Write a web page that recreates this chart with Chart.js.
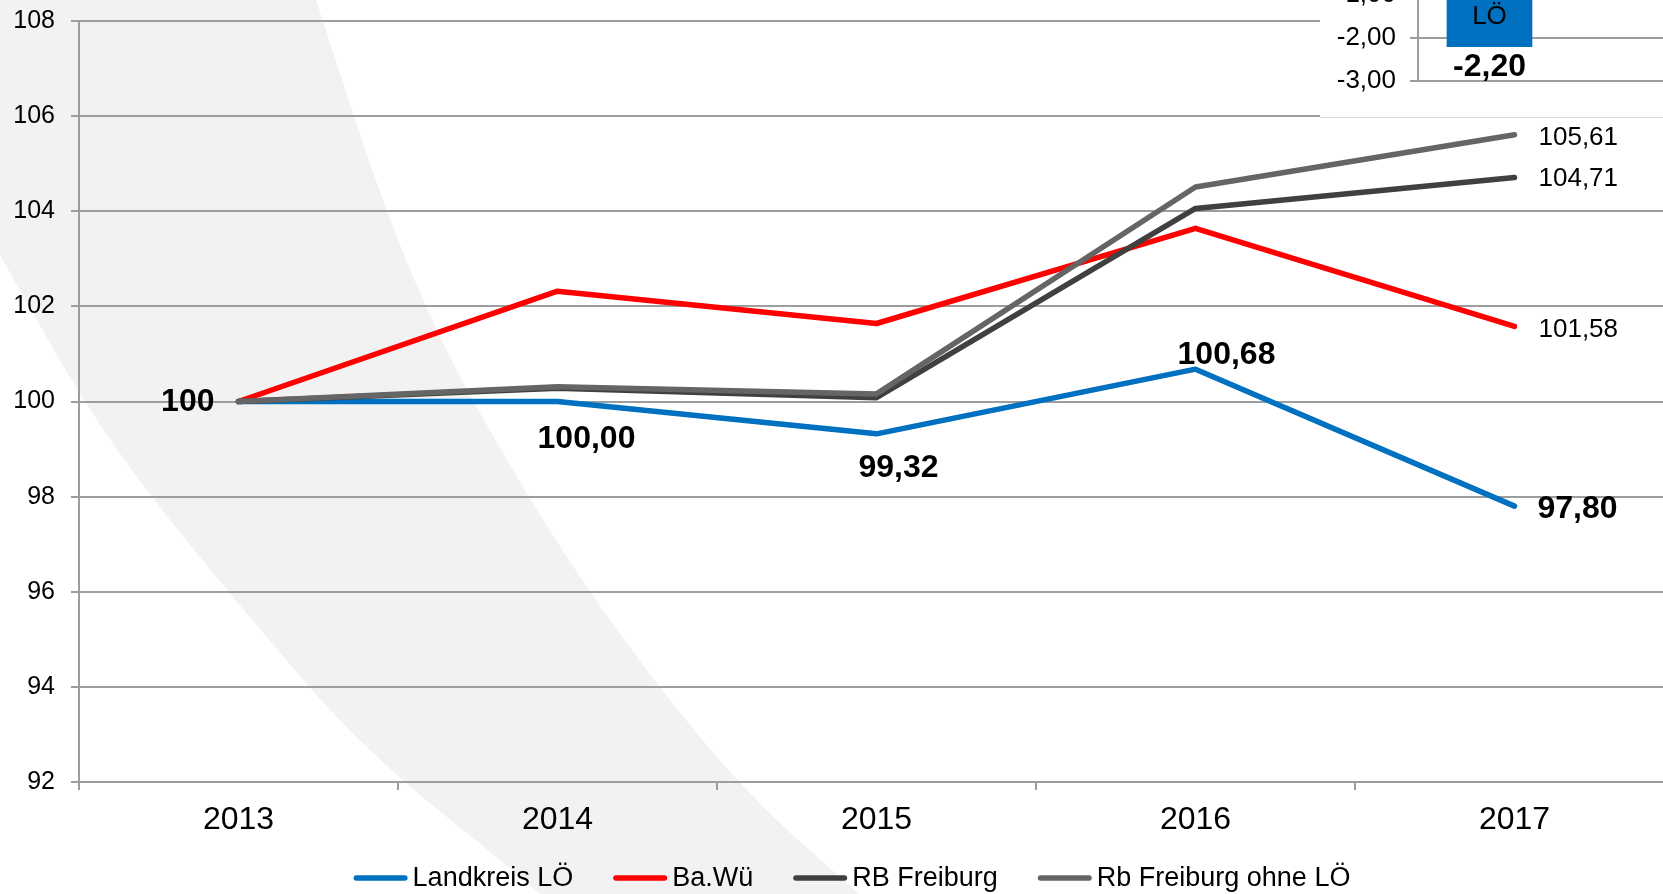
<!DOCTYPE html>
<html><head><meta charset="utf-8">
<script src="https://cdn.jsdelivr.net/npm/chart.js@4.4.0/dist/chart.umd.min.js"></script>
<style>
html,body{margin:0;padding:0;background:#fff;overflow:hidden;width:1663px;height:894px;}
#wrap{position:absolute;left:0;top:0;width:1674px;height:894px;}
#inset{position:absolute;left:1320px;top:0;width:343px;height:117px;background:#fff;border-bottom:1px solid #d9d9d9;overflow:hidden;}
#insetWrap{position:absolute;left:0;top:-80px;width:343px;height:197px;}
</style></head>
<body>
<div id="wrap"><canvas id="main"></canvas></div>
<div id="inset"><div id="insetWrap"><canvas id="ins"></canvas></div></div>
<script>
// ---------- data ----------
const years = ['2013', '2014', '2015', '2016', '2017'];
const seriesNames = ['Landkreis LÖ', 'Ba.Wü', 'RB Freiburg', 'Rb Freiburg ohne LÖ'];
const landkreisLO = [100, 100.00, 99.32, 100.68, 97.80];
const baWue = [100, 102.32, 101.64, 103.64, 101.58];
const rbFreiburg = [100, 100.28, 100.08, 104.06, 104.71];
const rbFreiburgOhneLO = [100, 100.31, 100.16, 104.51, 105.61];
const yMin = 92, yMax = 108, yStep = 2;
const insetCategories = ['LÖ'];
const insetValues = [-2.20];
const insetMin = -3, insetMax = 0, insetStep = 1;

// ---------- styles ----------
const FONT = '"Liberation Sans", Arial, Helvetica, sans-serif';
Chart.defaults.font.family = FONT;
const GRID = '#9d9d9d';
const colors = ['#0070C0', '#FF0000', '#404040', '#656565'];
const drawOrder = [4, 3, 2, 1];
const fmt = v => v.toFixed(2).replace('.', ',');

// label placement styles: [datasetIndex, pointIndex, align, dx, dy, bold, plain]
const labelStyles = [
  [0, 0, 'right', -24, 1, true, true],
  [0, 1, 'center', 29, 38, true, false],
  [0, 2, 'center', 22, 34, true, false],
  [0, 3, 'center', 31, -14, true, false],
  [0, 4, 'left', 23, 3, true, false],
  [1, 4, 'left', 24, 3, false, false],
  [2, 4, 'left', 24, 1.5, false, false],
  [3, 4, 'left', 24, 3, false, false]
];

const seriesValues = [landkreisLO, baWue, rbFreiburg, rbFreiburgOhneLO];

// background swoosh (decoration)
const bandRight = [[316,0],[354,116],[386,211],[425,306],[471,400],[583,587],[732,781],[859,894],[900,930]];
const bandLeft = [[580,930],[543,894],[365,752],[245,612],[150,496],[82,400],[0,255]];

function smooth(ctx, pts) {
  for (let i = 1; i < pts.length - 1; i++) {
    const mx = (pts[i][0] + pts[i+1][0]) / 2, my = (pts[i][1] + pts[i+1][1]) / 2;
    ctx.quadraticCurveTo(pts[i][0], pts[i][1], mx, my);
  }
  const l = pts[pts.length - 1];
  ctx.lineTo(l[0], l[1]);
}

const bandPlugin = {
  id: 'band',
  beforeDraw(chart) {
    const ctx = chart.ctx;
    ctx.save();
    ctx.fillStyle = '#f2f2f2';
    ctx.beginPath();
    ctx.moveTo(0, 0);
    ctx.lineTo(bandRight[0][0], bandRight[0][1]);
    smooth(ctx, bandRight);
    ctx.lineTo(bandLeft[0][0], bandLeft[0][1]);
    smooth(ctx, bandLeft);
    ctx.closePath();
    ctx.fill();
    ctx.restore();
  }
};

const labelPlugin = {
  id: 'valueLabels',
  afterDatasetsDraw(chart) {
    const ctx = chart.ctx;
    ctx.save();
    ctx.fillStyle = '#000';
    ctx.textBaseline = 'middle';
    labelStyles.forEach(([d, i, align, dx, dy, bold, plain]) => {
      const pt = chart.getDatasetMeta(d).data[i];
      const v = seriesValues[d][i];
      ctx.font = (bold ? 'bold 32px ' : '26px ') + FONT;
      ctx.textAlign = align;
      ctx.fillText(plain ? String(v) : fmt(v), pt.x + dx, pt.y + dy);
    });
    ctx.restore();
  }
};

const legendPlugin = {
  id: 'customLegend',
  afterDraw(chart) {
    const ctx = chart.ctx;
    ctx.save();
    ctx.font = '27px ' + FONT;
    const lineLen = 54, gap = 5, spacing = 40, y = 878, cx = 852;
    const items = chart.data.datasets.map(ds => ({ text: ds.label, color: ds.borderColor, w: ctx.measureText(ds.label).width }));
    const total = items.reduce((s, it) => s + lineLen + gap + it.w, 0) + spacing * (items.length - 1);
    let x = cx - total / 2;
    items.forEach(it => {
      ctx.strokeStyle = it.color;
      ctx.lineWidth = 5.5;
      ctx.lineCap = 'round';
      ctx.beginPath();
      ctx.moveTo(x + 2.75, y);
      ctx.lineTo(x + lineLen - 2.75, y);
      ctx.stroke();
      ctx.fillStyle = '#000';
      ctx.textAlign = 'left';
      ctx.textBaseline = 'middle';
      ctx.fillText(it.text, x + lineLen + gap, y + 1);
      x += lineLen + gap + it.w + spacing;
    });
    ctx.restore();
  }
};

new Chart(document.getElementById('main'), {
  type: 'line',
  data: {
    labels: years,
    datasets: seriesNames.map((name, k) => ({
      label: name,
      data: seriesValues[k],
      borderColor: colors[k],
      backgroundColor: colors[k],
      borderWidth: 5.5,
      borderCapStyle: 'round',
      borderJoinStyle: 'round',
      pointRadius: 0,
      tension: 0,
      fill: false,
      order: drawOrder[k]
    }))
  },
  options: {
    responsive: true,
    maintainAspectRatio: false,
    animation: false,
    events: [],
    layout: { padding: { left: 0, right: 0, top: 21, bottom: 43.6 } },
    plugins: { legend: { display: false }, tooltip: { enabled: false } },
    scales: {
      x: {
        offset: true,
        grid: { offset: true, drawOnChartArea: false, color: GRID, lineWidth: 2, tickLength: 8 },
        border: { display: true, color: GRID, width: 2 },
        ticks: { font: { size: 32 }, color: '#000', padding: 11, maxRotation: 0, autoSkip: false }
      },
      y: {
        min: yMin, max: yMax,
        ticks: { stepSize: yStep, font: { size: 25 }, color: '#000', padding: 16 },
        grid: { color: GRID, lineWidth: 2, tickLength: 8 },
        border: { display: true, color: GRID, width: 2 },
        afterFit(s) { s.width = 79; s.paddingTop = 0; s.paddingBottom = 0; }
      }
    }
  },
  plugins: [bandPlugin, labelPlugin, legendPlugin]
});

// ---------- inset bar chart ----------
const insetLabelPlugin = {
  id: 'insetLabels',
  afterDatasetsDraw(chart) {
    const ctx = chart.ctx;
    ctx.save();
    ctx.fillStyle = '#000';
    ctx.textAlign = 'center';
    ctx.textBaseline = 'middle';
    chart.getDatasetMeta(0).data.forEach((bar, i) => {
      ctx.font = '26px ' + FONT;
      ctx.fillText(insetCategories[i], bar.x, bar.y - 30);
      ctx.font = 'bold 32px ' + FONT;
      ctx.fillText(fmt(insetValues[i]), bar.x, bar.y + 21);
    });
    ctx.restore();
  }
};

new Chart(document.getElementById('ins'), {
  type: 'bar',
  data: {
    datasets: [{
      label: 'Veränderung 2013-2017',
      data: insetCategories.map((c, i) => ({ x: i, y: insetValues[i] })),
      backgroundColor: '#0070C0',
      barThickness: 85
    }]
  },
  options: {
    responsive: true,
    maintainAspectRatio: false,
    animation: false,
    events: [],
    layout: { padding: { left: 0, right: 0, top: 32, bottom: 36 } },
    plugins: { legend: { display: false }, tooltip: { enabled: false } },
    scales: {
      x: { type: 'linear', offset: false, min: -0.5, max: -0.5 + 245 / 143, display: false },
      y: {
        min: insetMin, max: insetMax,
        ticks: { stepSize: insetStep, font: { size: 26 }, color: '#000', padding: 14, callback: v => fmt(v) },
        grid: { color: GRID, lineWidth: 2, tickLength: 8 },
        border: { display: true, color: GRID, width: 2 },
        afterFit(s) { s.width = 98; s.paddingTop = 0; s.paddingBottom = 0; }
      }
    }
  },
  plugins: [insetLabelPlugin]
});
</script>
</body></html>
